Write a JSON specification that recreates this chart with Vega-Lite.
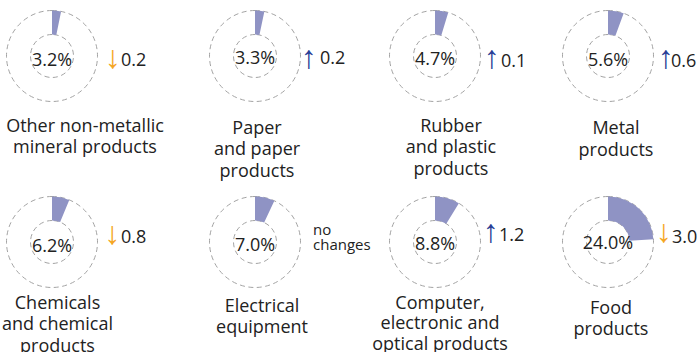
{
  "$schema": "https://vega.github.io/schema/vega-lite/v6.json",
  "padding": 0,
  "background": "white",
  "config": {"view": {"stroke": null}, "font": "Open Sans", "text": {"color": "#222222"}},
  "data": {"values": [
    {"id": 1, "label": "Other non-metallic\nmineral products", "share": 0.032, "change": "0.2", "dir": "down"},
    {"id": 2, "label": "Paper\nand paper\nproducts", "share": 0.033, "change": "0.2", "dir": "up"},
    {"id": 3, "label": "Rubber\nand plastic\nproducts", "share": 0.047, "change": "0.1", "dir": "up"},
    {"id": 4, "label": "Metal\nproducts", "share": 0.056, "change": "0.6", "dir": "up"},
    {"id": 5, "label": "Chemicals\nand chemical\nproducts", "share": 0.062, "change": "0.8", "dir": "down"},
    {"id": 6, "label": "Electrical\nequipment", "share": 0.070, "change": "no\nchanges", "dir": "none"},
    {"id": 7, "label": "Computer,\nelectronic and\noptical products", "share": 0.088, "change": "1.2", "dir": "up"},
    {"id": 8, "label": "Food\nproducts", "share": 0.240, "change": "3.0", "dir": "down"}
  ]},
  "transform": [{"calculate": "datum.dir == 'up' ? '↑' : (datum.dir == 'down' ? '↓' : '')", "as": "arrow"}],
  "columns": 4,
  "align": "each",
  "bounds": "flush",
  "spacing": {"row": 74, "column": 90},
  "concat": [
    {
      "width": 104, "height": 112,
      "transform": [{"filter": "datum.id == 1"}],
      "layer": [
        {"mark": {"type": "arc", "radius": 45.5, "filled": false, "stroke": "#a3a3a3", "strokeWidth": 1, "strokeDash": [5, 3.5]}, "encoding": {}},
        {"mark": {"type": "arc", "radius": 21.5, "filled": false, "stroke": "#a3a3a3", "strokeWidth": 1, "strokeDash": [5, 3.5]}, "encoding": {}},
        {"mark": {"type": "arc", "radius": 45.5, "radius2": 21.5, "fill": "#8f93c4"}, "encoding": {"theta": {"field": "share", "type": "quantitative", "scale": {"domain": [0, 1], "range": [0, 6.283185307179586]}}}},
        {"mark": {"type": "text", "fontSize": 18, "baseline": "alphabetic", "dy": 9.5}, "encoding": {"text": {"field": "share", "type": "quantitative", "format": ".1%"}}},
        {"mark": {"type": "text", "font": "Liberation Sans", "fontSize": 32, "baseline": "middle", "dx": 61, "dy": 1.5}, "encoding": {"text": {"field": "arrow"}, "color": {"field": "dir", "type": "nominal", "scale": {"domain": ["up", "down"], "range": ["#2a3f96", "#f5a623"]}, "legend": null}}},
        {"mark": {"type": "text", "fontSize": 18, "align": "left", "baseline": "alphabetic", "dx": 69, "dy": 10}, "encoding": {"text": {"field": "change"}}},
        {"mark": {"type": "text", "fontSize": 18, "lineBreak": "\n", "lineHeight": 21.5, "baseline": "alphabetic", "dx": 33, "dy": 75.5}, "encoding": {"text": {"field": "label"}}}
      ]
    },
    {
      "width": 122, "height": 112,
      "transform": [{"filter": "datum.id == 2"}],
      "layer": [
        {"mark": {"type": "arc", "radius": 45.5, "filled": false, "stroke": "#a3a3a3", "strokeWidth": 1, "strokeDash": [5, 3.5]}, "encoding": {}},
        {"mark": {"type": "arc", "radius": 21.5, "filled": false, "stroke": "#a3a3a3", "strokeWidth": 1, "strokeDash": [5, 3.5]}, "encoding": {}},
        {"mark": {"type": "arc", "radius": 45.5, "radius2": 21.5, "fill": "#8f93c4"}, "encoding": {"theta": {"field": "share", "type": "quantitative", "scale": {"domain": [0, 1], "range": [0, 6.283185307179586]}}}},
        {"mark": {"type": "text", "fontSize": 18, "baseline": "alphabetic", "dy": 7.5}, "encoding": {"text": {"field": "share", "type": "quantitative", "format": ".1%"}}},
        {"mark": {"type": "text", "font": "Liberation Sans", "fontSize": 32, "baseline": "middle", "dx": 54, "dy": 1.5}, "encoding": {"text": {"field": "arrow"}, "color": {"field": "dir", "type": "nominal", "scale": {"domain": ["up", "down"], "range": ["#2a3f96", "#f5a623"]}, "legend": null}}},
        {"mark": {"type": "text", "fontSize": 18, "align": "left", "baseline": "alphabetic", "dx": 65, "dy": 7.5}, "encoding": {"text": {"field": "change"}}},
        {"mark": {"type": "text", "fontSize": 18, "lineBreak": "\n", "lineHeight": 21.5, "baseline": "alphabetic", "dx": 2, "dy": 77.5}, "encoding": {"text": {"field": "label"}}}
      ]
    },
    {
      "width": 58, "height": 112,
      "transform": [{"filter": "datum.id == 3"}],
      "layer": [
        {"mark": {"type": "arc", "radius": 45.5, "filled": false, "stroke": "#a3a3a3", "strokeWidth": 1, "strokeDash": [5, 3.5]}, "encoding": {}},
        {"mark": {"type": "arc", "radius": 21.5, "filled": false, "stroke": "#a3a3a3", "strokeWidth": 1, "strokeDash": [5, 3.5]}, "encoding": {}},
        {"mark": {"type": "arc", "radius": 45.5, "radius2": 21.5, "fill": "#8f93c4"}, "encoding": {"theta": {"field": "share", "type": "quantitative", "scale": {"domain": [0, 1], "range": [0, 6.283185307179586]}}}},
        {"mark": {"type": "text", "fontSize": 18, "baseline": "alphabetic", "dy": 8.5}, "encoding": {"text": {"field": "share", "type": "quantitative", "format": ".1%"}}},
        {"mark": {"type": "text", "font": "Liberation Sans", "fontSize": 32, "baseline": "middle", "dx": 57, "dy": 1.5}, "encoding": {"text": {"field": "arrow"}, "color": {"field": "dir", "type": "nominal", "scale": {"domain": ["up", "down"], "range": ["#2a3f96", "#f5a623"]}, "legend": null}}},
        {"mark": {"type": "text", "fontSize": 18, "align": "left", "baseline": "alphabetic", "dx": 66, "dy": 11}, "encoding": {"text": {"field": "change"}}},
        {"mark": {"type": "text", "fontSize": 18, "lineBreak": "\n", "lineHeight": 21.5, "baseline": "alphabetic", "dx": 16, "dy": 75.5}, "encoding": {"text": {"field": "label"}}}
      ]
    },
    {
      "width": 108, "height": 112,
      "transform": [{"filter": "datum.id == 4"}],
      "layer": [
        {"mark": {"type": "arc", "radius": 45.5, "filled": false, "stroke": "#a3a3a3", "strokeWidth": 1, "strokeDash": [5, 3.5]}, "encoding": {}},
        {"mark": {"type": "arc", "radius": 21.5, "filled": false, "stroke": "#a3a3a3", "strokeWidth": 1, "strokeDash": [5, 3.5]}, "encoding": {}},
        {"mark": {"type": "arc", "radius": 45.5, "radius2": 21.5, "fill": "#8f93c4"}, "encoding": {"theta": {"field": "share", "type": "quantitative", "scale": {"domain": [0, 1], "range": [0, 6.283185307179586]}}}},
        {"mark": {"type": "text", "fontSize": 18, "baseline": "alphabetic", "dy": 9.5}, "encoding": {"text": {"field": "share", "type": "quantitative", "format": ".1%"}}},
        {"mark": {"type": "text", "font": "Liberation Sans", "fontSize": 32, "baseline": "middle", "dx": 58, "dy": 1.5}, "encoding": {"text": {"field": "arrow"}, "color": {"field": "dir", "type": "nominal", "scale": {"domain": ["up", "down"], "range": ["#2a3f96", "#f5a623"]}, "legend": null}}},
        {"mark": {"type": "text", "fontSize": 18, "align": "left", "baseline": "alphabetic", "dx": 63, "dy": 11}, "encoding": {"text": {"field": "change"}}},
        {"mark": {"type": "text", "fontSize": 18, "lineBreak": "\n", "lineHeight": 21.5, "baseline": "alphabetic", "dx": 8, "dy": 78}, "encoding": {"text": {"field": "label"}}}
      ]
    },
    {
      "width": 104, "height": 112,
      "transform": [{"filter": "datum.id == 5"}],
      "layer": [
        {"mark": {"type": "arc", "radius": 45.5, "filled": false, "stroke": "#a3a3a3", "strokeWidth": 1, "strokeDash": [5, 3.5]}, "encoding": {}},
        {"mark": {"type": "arc", "radius": 21.5, "filled": false, "stroke": "#a3a3a3", "strokeWidth": 1, "strokeDash": [5, 3.5]}, "encoding": {}},
        {"mark": {"type": "arc", "radius": 45.5, "radius2": 21.5, "fill": "#8f93c4"}, "encoding": {"theta": {"field": "share", "type": "quantitative", "scale": {"domain": [0, 1], "range": [0, 6.283185307179586]}}}},
        {"mark": {"type": "text", "fontSize": 18, "baseline": "alphabetic", "dy": 10}, "encoding": {"text": {"field": "share", "type": "quantitative", "format": ".1%"}}},
        {"mark": {"type": "text", "font": "Liberation Sans", "fontSize": 32, "baseline": "middle", "dx": 60.5, "dy": -8.5}, "encoding": {"text": {"field": "arrow"}, "color": {"field": "dir", "type": "nominal", "scale": {"domain": ["up", "down"], "range": ["#2a3f96", "#f5a623"]}, "legend": null}}},
        {"mark": {"type": "text", "fontSize": 18, "align": "left", "baseline": "alphabetic", "dx": 69, "dy": 1}, "encoding": {"text": {"field": "change"}}},
        {"mark": {"type": "text", "fontSize": 18, "lineBreak": "\n", "lineHeight": 21.5, "baseline": "alphabetic", "dx": 5.5, "dy": 66.5}, "encoding": {"text": {"field": "label"}}}
      ]
    },
    {
      "width": 122, "height": 112,
      "transform": [{"filter": "datum.id == 6"}],
      "layer": [
        {"mark": {"type": "arc", "radius": 45.5, "filled": false, "stroke": "#a3a3a3", "strokeWidth": 1, "strokeDash": [5, 3.5]}, "encoding": {}},
        {"mark": {"type": "arc", "radius": 21.5, "filled": false, "stroke": "#a3a3a3", "strokeWidth": 1, "strokeDash": [5, 3.5]}, "encoding": {}},
        {"mark": {"type": "arc", "radius": 45.5, "radius2": 21.5, "fill": "#8f93c4"}, "encoding": {"theta": {"field": "share", "type": "quantitative", "scale": {"domain": [0, 1], "range": [0, 6.283185307179586]}}}},
        {"mark": {"type": "text", "fontSize": 18, "baseline": "alphabetic", "dy": 9}, "encoding": {"text": {"field": "share", "type": "quantitative", "format": ".1%"}}},
        {"mark": {"type": "text", "fontSize": 15, "align": "left", "lineBreak": "\n", "lineHeight": 15.5, "baseline": "alphabetic", "dx": 58, "dy": -7.5}, "encoding": {"text": {"field": "change"}}},
        {"mark": {"type": "text", "fontSize": 18, "lineBreak": "\n", "lineHeight": 21.5, "baseline": "alphabetic", "dx": 7, "dy": 69.5}, "encoding": {"text": {"field": "label"}}}
      ]
    },
    {
      "width": 58, "height": 112,
      "transform": [{"filter": "datum.id == 7"}],
      "layer": [
        {"mark": {"type": "arc", "radius": 45.5, "filled": false, "stroke": "#a3a3a3", "strokeWidth": 1, "strokeDash": [5, 3.5]}, "encoding": {}},
        {"mark": {"type": "arc", "radius": 21.5, "filled": false, "stroke": "#a3a3a3", "strokeWidth": 1, "strokeDash": [5, 3.5]}, "encoding": {}},
        {"mark": {"type": "arc", "radius": 45.5, "radius2": 21.5, "fill": "#8f93c4"}, "encoding": {"theta": {"field": "share", "type": "quantitative", "scale": {"domain": [0, 1], "range": [0, 6.283185307179586]}}}},
        {"mark": {"type": "text", "fontSize": 18, "baseline": "alphabetic", "dy": 8}, "encoding": {"text": {"field": "share", "type": "quantitative", "format": ".1%"}}},
        {"mark": {"type": "text", "font": "Liberation Sans", "fontSize": 32, "baseline": "middle", "dx": 56, "dy": -10}, "encoding": {"text": {"field": "arrow"}, "color": {"field": "dir", "type": "nominal", "scale": {"domain": ["up", "down"], "range": ["#2a3f96", "#f5a623"]}, "legend": null}}},
        {"mark": {"type": "text", "fontSize": 18, "align": "left", "baseline": "alphabetic", "dx": 64, "dy": -1.5}, "encoding": {"text": {"field": "change"}}},
        {"mark": {"type": "text", "fontSize": 18, "lineBreak": "\n", "lineHeight": 20.5, "baseline": "alphabetic", "dx": 5, "dy": 66.5}, "encoding": {"text": {"field": "label"}}}
      ]
    },
    {
      "width": 108, "height": 112,
      "transform": [{"filter": "datum.id == 8"}],
      "layer": [
        {"mark": {"type": "arc", "radius": 45.5, "filled": false, "stroke": "#a3a3a3", "strokeWidth": 1, "strokeDash": [5, 3.5]}, "encoding": {}},
        {"mark": {"type": "arc", "radius": 21.5, "filled": false, "stroke": "#a3a3a3", "strokeWidth": 1, "strokeDash": [5, 3.5]}, "encoding": {}},
        {"mark": {"type": "arc", "radius": 45.5, "radius2": 21.5, "fill": "#8f93c4"}, "encoding": {"theta": {"field": "share", "type": "quantitative", "scale": {"domain": [0, 1], "range": [0, 6.283185307179586]}}}},
        {"mark": {"type": "text", "fontSize": 18, "baseline": "alphabetic", "dy": 6.5}, "encoding": {"text": {"field": "share", "type": "quantitative", "format": ".1%"}}},
        {"mark": {"type": "text", "font": "Liberation Sans", "fontSize": 32, "baseline": "middle", "dx": 56, "dy": -10.5}, "encoding": {"text": {"field": "arrow"}, "color": {"field": "dir", "type": "nominal", "scale": {"domain": ["up", "down"], "range": ["#2a3f96", "#f5a623"]}, "legend": null}}},
        {"mark": {"type": "text", "fontSize": 18, "align": "left", "baseline": "alphabetic", "dx": 64, "dy": 0.5}, "encoding": {"text": {"field": "change"}}},
        {"mark": {"type": "text", "fontSize": 18, "lineBreak": "\n", "lineHeight": 21.5, "baseline": "alphabetic", "dx": 3, "dy": 71.5}, "encoding": {"text": {"field": "label"}}}
      ]
    }
  ]
}
